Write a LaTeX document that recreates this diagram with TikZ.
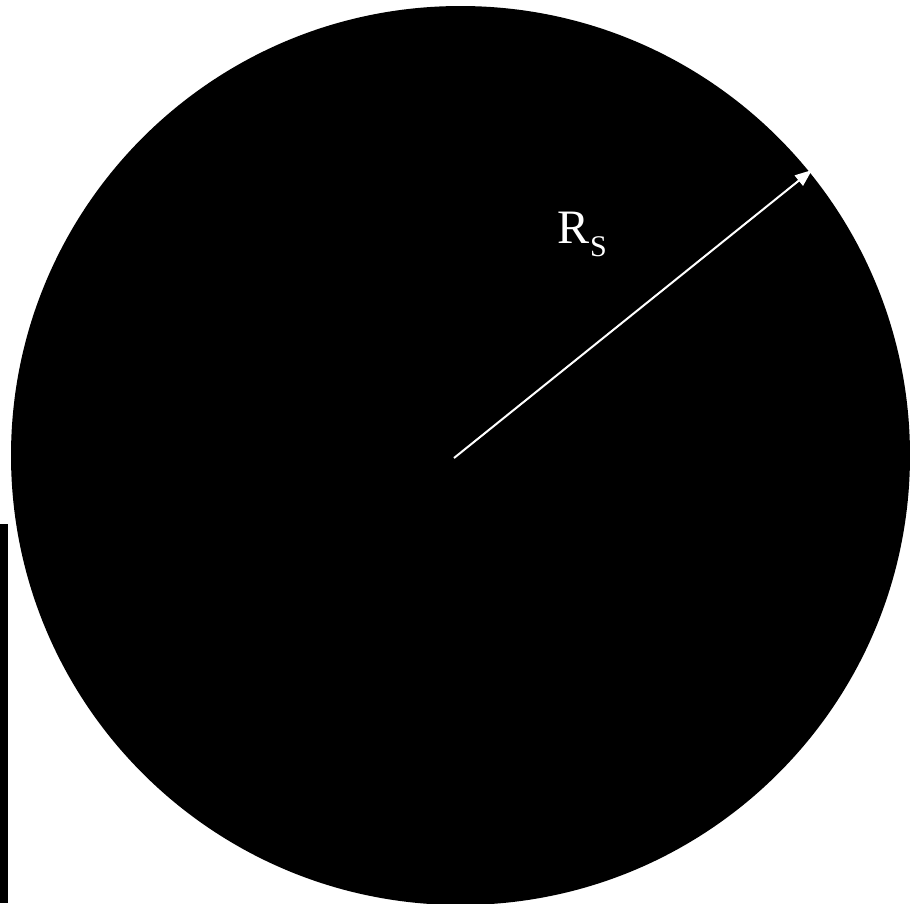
\documentclass[tikz,border=0pt]{standalone}
\usepackage{fontspec}
\setmainfont{Liberation Serif}
\usetikzlibrary{arrows.meta}
\begin{document}
\begin{tikzpicture}[x=1pt,y=-1pt,
  disc/.style={circle,fill=black,draw=none,minimum size=899pt,inner sep=0pt},
  bar/.style={fill=black,draw=none},
  radius arrow/.style={draw=white,line width=2pt,-{Triangle[length=17pt,width=13pt,fill=white]}},
  lbl/.style={text=white,font=\fontsize{48}{58}\selectfont,inner sep=0pt}]
\useasboundingbox (0,0) rectangle (910,903);
\node[disc] (sun) at (460.5,455.5) {};
\fill[bar] (0,524) rectangle (8,903);
\coordinate (c) at (454,458);
\coordinate (edge) at (812,170);
\draw[radius arrow] (c) -- (edge);
\node[lbl,anchor=base west] (rs) at (557,243) {R\kern1pt\raisebox{-13pt}{\fontsize{30}{36}\selectfont S}};
\end{tikzpicture}
\end{document}
